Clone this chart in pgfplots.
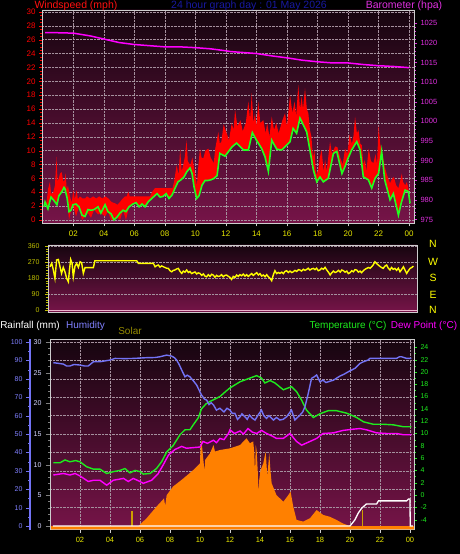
\documentclass[border=0pt]{standalone}
\usepackage{pgfplots}
\pgfplotsset{compat=1.18}
\usepgfplotslibrary{fillbetween}
\usepackage{fontspec}
\setmainfont{Liberation Sans}
\pagecolor{black}
\definecolor{bgtop}{RGB}{22,5,15}
\definecolor{bgbot}{RGB}{118,20,72}
\definecolor{gridc}{RGB}{165,145,158}
\definecolor{framec}{RGB}{205,205,205}
\definecolor{hourc}{RGB}{232,232,0}
\definecolor{windred}{RGB}{255,0,0}
\definecolor{avggreen}{RGB}{32,255,32}
\definecolor{baro}{RGB}{255,0,255}
\definecolor{barolab}{RGB}{224,48,224}
\definecolor{humc}{RGB}{115,115,245}
\definecolor{humlab}{RGB}{128,128,255}
\definecolor{rainlab}{RGB}{215,215,255}
\definecolor{solarc}{RGB}{255,128,0}
\definecolor{solartxt}{RGB}{150,140,0}
\definecolor{uvc}{RGB}{205,160,0}
\definecolor{tempc}{RGB}{30,235,30}
\definecolor{dewc}{RGB}{255,0,255}
\definecolor{dirc}{RGB}{255,255,0}
\definecolor{dirlab}{RGB}{190,190,0}
\definecolor{titleblue}{RGB}{24,24,160}
\definecolor{pinkline}{RGB}{235,180,205}
\pgfplotsset{
  /pgf/number format/assume math mode=true,
  /pgf/number format/1000 sep={},
  panel/.style={scale only axis,
    axis line style={framec, line width=0.8pt},
    tick align=outside, major tick length=3pt, minor tick length=1.8pt,
    grid style={gridc, densely dotted, line width=0.5pt}},
  bg/.style={axis background/.style={top color=bgtop, bottom color=bgbot}},
}
\newcommand\tf[1]{\fontsize{#1}{#1}\selectfont}
\begin{document}
\begin{tikzpicture}

% ---------------- Panel 1: wind speed ----------------
\begin{axis}[panel, bg,
  at={(42pt,330.7pt)}, anchor=south west, width=372pt, height=213.3pt,
  xmin=-0.05, xmax=24.32, ymin=-0.48, ymax=30.29,
  grid=major,
  xtick={2,4,...,24}, xticklabels={02,04,06,08,10,12,14,16,18,20,22,00},
  ytick={0,2,...,30}, minor y tick num=3,
  tick pos=left,
  x tick style={framec}, y tick style={windred},
  xticklabel style={font=\tf{8}, text=hourc, yshift=-1.5pt},
  yticklabel style={font=\tf{8}, text=windred},
]
\addplot[draw=none, name path=gust] table {
0.08 2.0
0.25 2.6
0.35 4.5
0.47 5.5
0.55 3.8
0.68 3.9
0.8 5.0
0.9 9.1
0.97 5.5
1.05 6.0
1.13 6.7
1.24 6.9
1.35 5.5
1.45 5.8
1.5 6.8
1.57 4.3
1.65 5.0
1.78 3.4
1.9 2.5
2.0 4.3
2.1 3.0
2.22 4.3
2.3 3.0
2.44 3.4
2.6 3.1
2.77 3.1
2.9 3.4
3.1 3.1
3.3 3.4
3.5 3.1
3.7 3.4
3.9 3.1
4.1 3.4
4.3 3.1
4.5 2.6
4.73 2.4
4.9 2.2
5.06 2.6
5.2 3.0
5.39 3.4
5.5 3.4
5.6 4.1
5.7 3.4
5.93 3.4
6.5 3.4
7.03 3.4
7.15 4.0
7.35 4.6
7.5 4.6
7.68 4.6
8.1 4.6
8.5 4.6
8.6 5.5
8.77 7.9
8.9 6.5
9.0 10.3
9.1 7.0
9.2 7.9
9.3 9.0
9.42 11.5
9.5 8.5
9.66 7.9
9.8 9.0
9.97 6.7
10.1 5.0
10.2 8.0
10.3 10.3
10.4 9.0
10.52 8.9
10.65 10.0
10.85 10.3
11.0 9.0
11.2 8.2
11.3 10.3
11.5 12.7
11.6 11.0
11.7 11.3
11.85 13.8
12.05 12.5
12.2 11.5
12.38 14.0
12.5 13.0
12.6 15.9
12.75 13.5
12.95 14.4
13.1 12.8
13.3 14.0
13.47 17.1
13.58 14.5
13.69 18.3
13.8 14.0
13.9 15.4
14.0 13.5
14.12 17.1
14.25 14.0
14.45 14.4
14.6 12.5
14.7 14.0
14.85 12.0
15.0 14.9
15.15 13.0
15.3 14.0
15.45 12.5
15.7 14.4
15.87 15.4
16.0 13.5
16.2 18.0
16.35 15.5
16.5 17.1
16.6 15.0
16.74 19.5
16.85 16.0
16.96 17.8
17.05 16.0
17.18 19.0
17.3 16.0
17.4 15.4
17.5 13.0
17.6 12.0
17.7 9.0
17.8 10.1
17.9 6.5
18.05 7.2
18.15 9.0
18.27 10.1
18.4 7.0
18.5 8.7
18.6 7.0
18.7 9.0
18.82 11.3
18.95 9.5
19.15 10.6
19.3 10.5
19.5 8.9
19.65 8.0
19.8 10.3
19.95 9.5
20.1 12.3
20.25 11.0
20.35 12.0
20.46 14.9
20.58 12.5
20.68 13.0
20.8 11.0
20.9 10.8
21.0 8.0
21.1 8.7
21.2 7.0
21.35 10.3
21.5 8.5
21.66 8.2
21.8 9.5
21.9 8.0
22.0 13.7
22.1 11.0
22.2 10.1
22.3 9.0
22.4 7.7
22.55 6.5
22.75 5.3
22.9 6.0
23.0 6.2
23.15 5.0
23.3 4.6
23.4 5.5
23.52 6.7
23.6 5.5
23.74 5.0
23.85 5.5
23.95 4.6
24.06 2.4
};
\addplot[draw=none, name path=low] table {
0.08 1.9
0.15 2.6
0.34 1.6
0.54 3.3
0.73 2.8
0.93 2.2
1.06 3.5
1.26 4.1
1.39 4.7
1.45 4.5
1.59 3.2
1.72 0.0
1.85 1.4
1.98 2.2
2.18 0.5
2.37 1.9
2.57 0.0
2.77 0.5
2.96 1.0
3.16 0.3
3.36 1.5
3.62 0.8
3.81 1.0
4.08 0.5
4.27 1.2
4.47 0.0
4.67 0.0
4.86 0.4
5.06 0.0
5.26 1.4
5.45 0.0
5.65 1.9
5.91 2.3
6.11 2.5
6.31 1.9
6.50 2.3
6.70 1.9
6.90 2.6
7.09 3.0
7.29 3.4
7.49 3.8
7.68 3.3
7.88 3.4
8.08 3.8
8.27 3.1
8.47 3.6
8.67 4.6
8.86 5.5
9.06 5.8
9.25 6.2
9.45 7.0
9.65 7.5
9.78 6.7
9.91 4.8
10.08 3.1
10.24 3.5
10.43 5.0
10.63 5.7
10.83 5.7
11.03 5.8
11.22 6.0
11.42 6.4
11.60 9.6
11.94 9.2
12.38 10.5
12.70 11.1
13.14 10.1
13.47 10.1
13.73 12.6
14.00 11.5
14.34 10.3
14.56 9.1
14.78 7.0
15.00 11.5
15.33 10.2
15.65 10.1
15.98 10.8
16.20 11.3
16.40 13.2
16.63 12.5
16.85 14.7
17.07 13.7
17.29 12.7
17.50 10.1
17.73 7.2
17.95 5.5
18.16 6.2
18.38 5.5
18.70 6.0
19.04 9.6
19.26 9.9
19.60 6.7
19.80 7.7
20.00 8.9
20.24 10.1
20.57 11.3
20.79 10.1
21.00 6.2
21.33 5.8
21.55 4.6
21.77 6.0
22.00 6.7
22.20 9.9
22.40 5.8
22.75 2.9
22.97 3.8
23.30 0.7
23.50 2.6
23.74 4.3
23.95 4.1
24.06 2.4
};
\addplot[fill=windred, draw=none] fill between[of=gust and low];
\addplot[avggreen, line width=1.6pt] table {
0.08 1.9
0.15 2.6
0.34 1.6
0.54 3.3
0.73 2.8
0.93 2.2
1.06 3.5
1.26 4.1
1.39 4.7
1.45 4.5
1.59 3.2
1.72 1.2
1.85 1.4
1.98 2.2
2.18 2.3
2.37 1.9
2.57 0.7
2.77 0.5
2.96 1.5
3.16 1.4
3.36 1.5
3.62 1.9
3.81 1.0
4.08 2.2
4.27 1.2
4.47 0.9
4.67 0.0
4.86 0.4
5.06 1.0
5.26 1.4
5.45 1.2
5.65 1.9
5.91 2.3
6.11 2.5
6.31 1.9
6.50 2.3
6.70 1.9
6.90 2.6
7.09 3.0
7.29 3.4
7.49 3.8
7.68 3.3
7.88 3.4
8.08 3.8
8.27 3.1
8.47 3.6
8.67 4.6
8.86 5.5
9.06 5.8
9.25 6.2
9.45 7.0
9.65 7.5
9.78 6.7
9.91 4.8
10.08 3.1
10.24 3.5
10.43 5.0
10.63 5.7
10.83 5.7
11.03 5.8
11.22 6.0
11.42 6.4
11.60 9.6
11.94 9.2
12.38 10.5
12.70 11.1
13.14 10.1
13.47 10.1
13.73 12.6
14.00 11.5
14.34 10.3
14.56 9.1
14.78 7.0
15.00 11.5
15.33 10.2
15.65 10.1
15.98 10.8
16.20 11.3
16.40 13.2
16.63 12.5
16.85 14.7
17.07 13.7
17.29 12.7
17.50 10.1
17.73 7.2
17.95 5.5
18.16 6.2
18.38 5.5
18.70 6.0
19.04 9.6
19.26 9.9
19.60 6.7
19.80 7.7
20.00 8.9
20.24 10.1
20.57 11.3
20.79 10.1
21.00 6.2
21.33 5.8
21.55 4.6
21.77 6.0
22.00 6.7
22.20 9.9
22.40 5.8
22.75 2.9
22.97 3.8
23.30 0.7
23.50 2.6
23.74 4.3
23.95 4.1
24.06 2.4
};
\end{axis}

% ---------------- Panel 1: barometer ----------------
\begin{axis}[panel,
  at={(42pt,330.7pt)}, anchor=south west, width=372pt, height=213.3pt,
  xmin=-0.05, xmax=24.32, ymin=974.03, ymax=1028.4,
  axis y line*=right, axis x line=none,
  ytick={975,980,...,1025}, minor y tick num=4,
  y tick style={barolab},
  yticklabel style={font=\tf{7.5}, text=barolab},
]
\addplot[baro, line width=1.5pt] table {
0.15 1022.6
1.0 1022.6
2.0 1022.5
3.1 1021.8
4.0 1021.0
5.0 1020.1
6.0 1019.6
7.0 1019.3
8.0 1019.0
9.0 1019.0
10.0 1018.8
11.0 1018.5
12.0 1018.0
12.3 1017.8
13.0 1017.6
14.0 1017.3
15.0 1016.7
16.0 1016.2
17.0 1015.6
18.0 1015.2
19.0 1014.9
20.0 1014.9
21.0 1014.5
22.0 1014.2
23.0 1014.0
24.0 1013.7
};
\end{axis}

% ---------------- Panel 2: wind direction ----------------
\begin{axis}[panel, bg,
  at={(48pt,242pt)}, anchor=south west, width=369pt, height=67pt,
  xmin=0.36, xmax=24.28, ymin=-9, ymax=366,
  xtick=\empty,
  ytick={0,90,180,270,360}, minor y tick num=5,
  ymajorgrids,
  extra y ticks={0}, extra y tick labels={},
  extra y tick style={grid style={pinkline, solid, line width=1.6pt}},
  tick pos=left,
  y tick style={dirlab},
  yticklabel style={font=\tf{7}, text=dirlab, xshift=-2pt},
]
\addplot[dirc, line width=1.4pt] table {
0.49 244
0.60 263
0.70 229
0.81 179
0.92 282
1.03 285
1.14 244
1.24 207
1.35 241
1.46 216
1.57 179
1.68 160
1.75 226
1.83 285
1.92 263
2.00 188
2.11 248
2.22 263
2.33 241
2.44 272
2.54 267
2.65 207
2.76 239
3.30 239
3.40 278
5.46 278
6.11 278
6.22 263
7.19 263
7.30 244
7.40 250
7.51 254
7.62 242
7.73 249
7.84 244
7.95 240
8.05 236
8.16 235
8.27 222
8.38 216
8.48 224
8.59 226
8.70 232
8.81 235
8.92 218
9.03 207
9.13 220
9.24 214
9.35 226
9.46 212
9.56 218
9.67 206
9.78 211
9.89 215
10.0 204
10.10 210
10.21 207
10.32 196
10.43 204
10.53 192
10.64 188
10.75 200
10.86 190
10.97 202
11.07 198
11.18 186
11.29 196
11.40 190
11.50 192
11.61 200
11.72 188
11.83 196
11.94 198
12.05 190
12.15 185
12.26 173
12.37 190
12.48 184
12.59 198
12.70 190
12.80 200
12.91 194
13.02 203
13.13 192
13.24 200
13.34 190
13.45 198
13.56 206
13.67 196
13.78 204
13.89 211
14.00 198
14.10 206
14.21 192
14.32 198
14.43 188
14.54 200
14.64 188
14.75 180
14.86 166
14.97 200
15.07 222
15.18 206
15.29 212
15.40 207
15.51 214
15.62 206
15.72 218
15.83 222
15.94 212
16.05 220
16.16 212
16.26 216
16.37 224
16.48 218
16.59 228
16.69 226
16.80 220
16.91 230
17.02 224
17.12 229
17.23 236
17.34 226
17.45 232
17.56 235
17.67 228
17.77 236
17.88 222
17.99 226
18.10 236
18.21 230
18.32 241
18.43 226
18.54 214
18.65 198
18.75 210
18.86 220
18.97 212
19.08 216
19.19 224
19.30 214
19.40 226
19.51 222
19.62 214
19.73 220
19.83 206
19.94 211
20.05 222
20.16 216
20.26 228
20.37 226
20.48 214
20.59 220
20.69 211
20.80 222
20.91 230
21.02 235
21.13 240
21.24 236
21.34 244
21.45 256
21.55 272
21.66 262
21.77 254
21.88 246
21.98 240
22.09 235
22.20 248
22.31 254
22.42 236
22.53 226
22.63 240
22.74 230
22.85 235
22.96 224
23.07 236
23.18 216
23.29 230
23.40 244
23.50 226
23.61 207
23.72 222
23.83 235
23.94 240
24.05 248
};
\end{axis}

% ---------------- Panel 3: main (humidity scale) ----------------
\begin{axis}[panel, bg,
  at={(50pt,24.5pt)}, anchor=south west, width=364pt, height=190.2pt,
  xmin=0, xmax=24.27, ymin=-1.9, ymax=101.5,
  grid=major,
  xtick={2,4,...,24}, xticklabels={02,04,06,08,10,12,14,16,18,20,22,00},
  ytick={0,10,...,100}, yticklabels={},
  tick pos=left,
  x tick style={framec}, y tick style={draw=none},
  xticklabel style={font=\tf{7.5}, text=hourc, yshift=-1pt},
]
\addplot[draw=none, name path=sol] table {
0 0
5.9 0
6.44 4.2
7.1 10.5
7.6 15
7.68 11
7.78 16.8
8.2 21.4
8.9 25.9
9.55 30.4
10.0 34.1
10.05 44
10.1 46.7
10.2 38
10.3 30
10.35 36
10.67 39.5
10.9 44
11.0 40.5
11.33 41.3
12.0 42.2
12.67 44
13.1 47.7
13.33 45
13.55 46
13.62 40
13.67 28.6
13.72 44
13.78 41
13.85 30
13.9 17.8
13.95 25
14.04 30.4
14.22 34
14.38 40.4
14.49 27
14.62 39.5
14.7 30
14.78 23.2
15.1 16.8
15.56 13.2
15.89 16.8
16.04 18.7
16.22 10.5
16.44 3.3
16.89 2.4
17.33 4.2
17.78 8.7
18.22 6
18.67 5
19.1 3.3
19.55 1.3
20.0 0
24.27 0
};
\addplot[draw=none, name path=base] coordinates {(0,-1.9) (24.27,-1.9)};
\addplot[fill=solarc, draw=none] fill between[of=sol and base];
\addplot[ycomb, uvc, line width=1.3pt] coordinates {(5.47,8.3) (20.84,8.5)};
\end{axis}

% ---------------- Panel 3: temperature / dew point ----------------
\begin{axis}[panel,
  at={(50pt,24.5pt)}, anchor=south west, width=364pt, height=190.2pt,
  xmin=0, xmax=24.27, ymin=-5.6, ymax=25.3,
  axis y line*=right, axis x line=none,
  ytick={-4,-2,...,24}, minor y tick num=1,
  y tick style={tempc},
  yticklabel style={font=\tf{7}, text=tempc},
]
\addplot[tempc, line width=1.4pt] table {
0.22 5.25
0.67 5.25
1.0 5.7
1.33 5.4
1.7 5.6
2.0 5.4
2.44 4.6
2.9 4.2
3.33 4.2
3.78 3.5
4.22 3.8
4.67 4.0
5.0 4.3
5.33 3.6
5.67 4.0
6.0 3.8
6.22 3.4
6.67 3.5
7.1 4.3
7.44 5.4
7.78 7.0
8.2 8.0
8.67 9.8
9.0 10.6
9.33 10.6
9.55 11.4
9.9 12.6
10.1 14.0
10.4 14.8
10.67 15.2
11.0 15.6
11.33 16.0
11.7 16.8
12.0 17.4
12.67 18.4
13.33 19.0
13.78 19.4
14.1 19.0
14.33 18.2
14.67 18.6
15.0 18.2
15.56 17.1
16.1 17.6
16.44 16.8
16.78 15.4
17.1 13.8
17.56 12.6
18.0 13.2
18.55 13.7
19.1 13.7
19.78 13.3
20.44 12.6
20.9 11.9
21.55 11.5
22.2 11.5
22.9 11.4
23.55 11.1
24.1 11.1
};
\addplot[dewc, line width=1.4pt] table {
0.22 3.25
0.9 3.5
1.33 3.25
1.67 3.5
2.0 3.1
2.55 2.2
2.9 2.4
3.33 2.4
3.78 1.6
4.22 2.4
4.9 2.7
5.22 2.2
5.55 2.7
6.0 2.2
6.22 1.9
6.78 2.4
7.22 3.5
7.55 4.9
7.9 6.5
8.33 7.4
8.78 7.9
9.1 7.6
9.55 7.7
10.0 7.8
10.2 8.7
10.5 8.4
10.9 8.9
11.1 8.5
11.33 9.2
11.6 9.0
11.9 10.0
12.0 10.6
12.3 10.0
12.67 10.4
12.9 9.9
13.2 10.8
13.5 10.2
13.78 10.0
14.1 10.5
14.44 10.0
14.8 9.6
15.1 9.2
15.56 9.2
16.0 10.0
16.44 8.7
16.78 8.1
17.33 8.7
17.78 9.2
18.2 10.0
18.9 10.1
19.55 10.5
20.22 10.7
20.67 10.8
21.1 10.6
21.78 10.1
22.44 10.0
23.1 10.0
23.55 9.8
24.1 9.8
};
\end{axis}

% ---------------- Panel 3: humidity line ----------------
\begin{axis}[scale only axis,
  at={(50pt,24.5pt)}, anchor=south west, width=364pt, height=190.2pt,
  xmin=0, xmax=24.27, ymin=-1.9, ymax=101.5, hide axis,
]
\addplot[humc, line width=1.4pt] table {
0.22 88.8
0.5 88.5
0.9 88.0
1.1 87.0
1.33 87.0
1.6 87.8
2.0 87.5
2.3 87.0
2.55 87.0
2.9 89.3
3.33 89.3
3.7 89.8
4.0 90.2
4.33 91.1
5.0 91.0
5.56 91.1
6.0 91.3
6.44 91.5
7.0 91.6
7.33 92.0
7.78 92.9
8.1 92.4
8.3 91.5
8.44 90.2
8.6 88
8.78 84.8
9.0 81.1
9.15 82
9.33 81.1
9.55 79
9.78 76.6
10.1 71.2
10.3 69
10.44 68.5
10.6 66
10.75 67
10.9 65.8
11.1 63
11.33 64
11.6 62
11.8 64
12.0 63
12.15 61.2
12.33 61.2
12.5 58
12.67 59.4
12.8 61
13.0 59.4
13.15 58
13.3 60.3
13.5 58.5
13.67 57.6
13.85 60
14.1 63
14.25 60
14.44 58.5
14.6 60
14.9 57.6
15.1 59
15.33 57.6
15.55 58
15.78 59.4
16.1 63
16.33 57.6
16.5 59
16.67 60.3
16.85 62
17.0 64.9
17.22 72.1
17.44 80.3
17.6 81
17.78 82.1
18.0 78.4
18.2 79.3
18.4 78
18.55 78.4
18.9 79.3
19.33 81.5
19.6 82.5
19.9 83.9
20.33 85.7
20.67 88.4
20.9 89.3
21.2 90.2
21.33 91.1
22.0 91.1
22.5 91.1
23.1 91.1
23.3 92
23.44 92
23.78 91.1
24.1 91.1
};
\end{axis}

% ---------------- Panel 3: rainfall ----------------
\begin{axis}[panel,
  at={(50pt,24.5pt)}, anchor=south west, width=364pt, height=190.2pt,
  xmin=0, xmax=24.27, ymin=-0.57, ymax=30.45,
  axis y line*=left, axis x line=none,
  ytick={0,5,...,30}, minor y tick num=4,
  major tick length=4pt,
  y tick style={gray},
  yticklabel style={font=\tf{7}, text=rainlab, xshift=-1pt},
]
\addplot[white, line width=1.3pt] table {
0.2 0
20.0 0
20.33 1.0
20.55 2.1
20.78 2.9
21.1 3.6
21.78 3.6
21.9 4.1
23.78 4.1
23.9 4.4
24.0 4.4
24.02 0
24.2 0
};
\end{axis}

% ---------------- Panel 3: humidity scale ----------------
\begin{axis}[scale only axis,
  at={(30pt,24.5pt)}, anchor=south west, width=1pt, height=190.2pt,
  xmin=0, xmax=1, ymin=-1.9, ymax=101.5,
  axis y line=left, axis x line=none,
  axis line style={humc, line width=2pt, -},
  ytick={0,10,...,100}, minor y tick num=1,
  tick align=outside, major tick length=4pt, minor tick length=2pt,
  y tick style={humc},
  yticklabel style={font=\tf{7}, text=humlab},
]
\addplot[draw=none] coordinates {(0,0)};
\end{axis}

% ---------------- Titles ----------------
\node[font=\tf{10.5}, text={rgb,255:red,255;green,16;blue,16}, inner sep=0pt] at (76pt,548pt) {Windspeed (mph)};
\node[font=\tf{10.5}, text=titleblue, inner sep=0pt] at (249pt,548pt) {24 hour graph day : 01 May 2026};
\node[font=\tf{10.5}, text=barolab, inner sep=0pt] at (404pt,548pt) {Barometer (hpa)};
\foreach \l/\yy in {N/310, W/292, S/276, E/259, N/244}
  \node[font=\tf{10.5}, text=dirc] at (433pt,\yy pt) {\l};
\node[font=\tf{10}, text=white] at (30pt,228pt) {Rainfall (mm)};
\node[font=\tf{10}, text=humlab] at (85.5pt,228pt) {Humidity};
\node[font=\tf{10}, text=solartxt] at (130pt,223pt) {Solar};
\node[font=\tf{10}, text=tempc] at (348pt,228pt) {Temperature (°C)};
\node[font=\tf{10}, text=dewc] at (424pt,228pt) {Dew Point (°C)};
\pgfresetboundingbox
\path[use as bounding box] (0,0) rectangle (460pt,554pt);
\end{tikzpicture}
\end{document}
